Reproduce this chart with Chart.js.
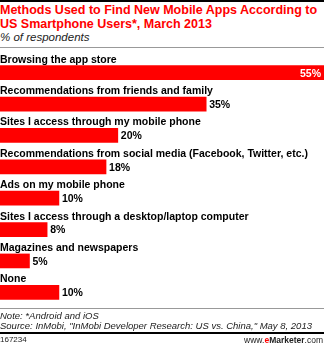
<!DOCTYPE html>
<html>
<head>
<meta charset="utf-8">
<script src="https://cdn.jsdelivr.net/npm/chart.js@4/dist/chart.umd.min.js"></script>
<style>
  body { margin: 0; background: #fff; }
  #wrap { position: relative; width: 324px; height: 345px; overflow: hidden; font-family: "Liberation Sans", Arial, sans-serif; }
  #wrap canvas { position: absolute; left: 0; top: 0; }
  .txt { position: absolute; left: 0; white-space: nowrap; }
  .rule { position: absolute; left: 0; width: 324px; }
</style>
</head>
<body>
<div id="wrap">
  <div class="rule" style="top:0;height:2px;background:#000"></div>
  <div class="txt" style="top:3px;font-size:12.5px;font-weight:bold;color:#f00;line-height:14px">Methods Used to Find New Mobile Apps According to<br>US Smartphone Users*, March 2013</div>
  <div class="txt" style="top:31px;font-size:11.5px;font-style:italic;color:#222">% of respondents</div>
  <div class="rule" style="top:47px;height:1px;background:#999"></div>
  <canvas id="c" width="324" height="345"></canvas>
  <div class="rule" style="top:308px;height:1px;background:#999"></div>
  <div class="txt" style="top:311px;font-size:9.5px;font-style:italic;color:#222;line-height:10px">Note: *Android and iOS<br>Source: InMobi, "InMobi Developer Research: US vs. China," May 8, 2013</div>
  <div class="rule" style="top:332px;height:2px;background:#000"></div>
  <div class="txt" style="top:335px;font-size:8px;color:#222">167234</div>
  <div class="txt" style="top:335px;left:auto;right:1px;font-size:8.5px;color:#222">www.<b style="color:#f00">e</b><b>Marketer</b>.com</div>
</div>
<script>
// values
const categories = [
  "Browsing the app store",
  "Recommendations from friends and family",
  "Sites I access through my mobile phone",
  "Recommendations from social media (Facebook, Twitter, etc.)",
  "Ads on my mobile phone",
  "Sites I access through a desktop/laptop computer",
  "Magazines and newspapers",
  "None"
];
const respondents = [55, 35, 20, 18, 10, 8, 5, 10];
const valueLabels = ["55%", "35%", "20%", "18%", "10%", "8%", "5%", "10%"];

const labelFont = 'bold 10.5px "Liberation Sans", Arial, sans-serif';

const barLabels = {
  id: "barLabels",
  afterDatasetsDraw(chart) {
    const ctx = chart.ctx;
    const meta = chart.getDatasetMeta(0);
    ctx.save();
    ctx.font = labelFont;
    meta.data.forEach(function (bar, i) {
      const top = bar.y - bar.height / 2;
      // category name above bar
      ctx.fillStyle = "#000";
      ctx.textAlign = "left";
      ctx.textBaseline = "alphabetic";
      ctx.fillText(categories[i], 0, top - 3);
      // value
      ctx.textBaseline = "middle";
      if (i == 0) {
        ctx.fillStyle = "#fff";
        ctx.textAlign = "right";
        ctx.fillText(valueLabels[i], bar.x - 3, bar.y + 1);
      } else {
        ctx.fillStyle = "#000";
        ctx.textAlign = "left";
        ctx.fillText(valueLabels[i], bar.x + 3, bar.y + 1);
      }
    });
    ctx.restore();
  }
};

new Chart(document.getElementById("c"), {
  type: "bar",
  data: {
    labels: categories,
    datasets: [{
      data: respondents,
      backgroundColor: "#ff0000",
      borderWidth: 0,
      barThickness: 14
    }]
  },
  options: {
    indexAxis: "y",
    responsive: false,
    animation: false,
    layout: { padding: { top: 57, bottom: 37, left: 0, right: 0 } },
    scales: {
      x: { display: false, min: 0, max: 55 },
      y: { display: false }
    },
    plugins: { legend: { display: false }, tooltip: { enabled: false } }
  },
  plugins: [barLabels]
});
</script>
</body>
</html>
